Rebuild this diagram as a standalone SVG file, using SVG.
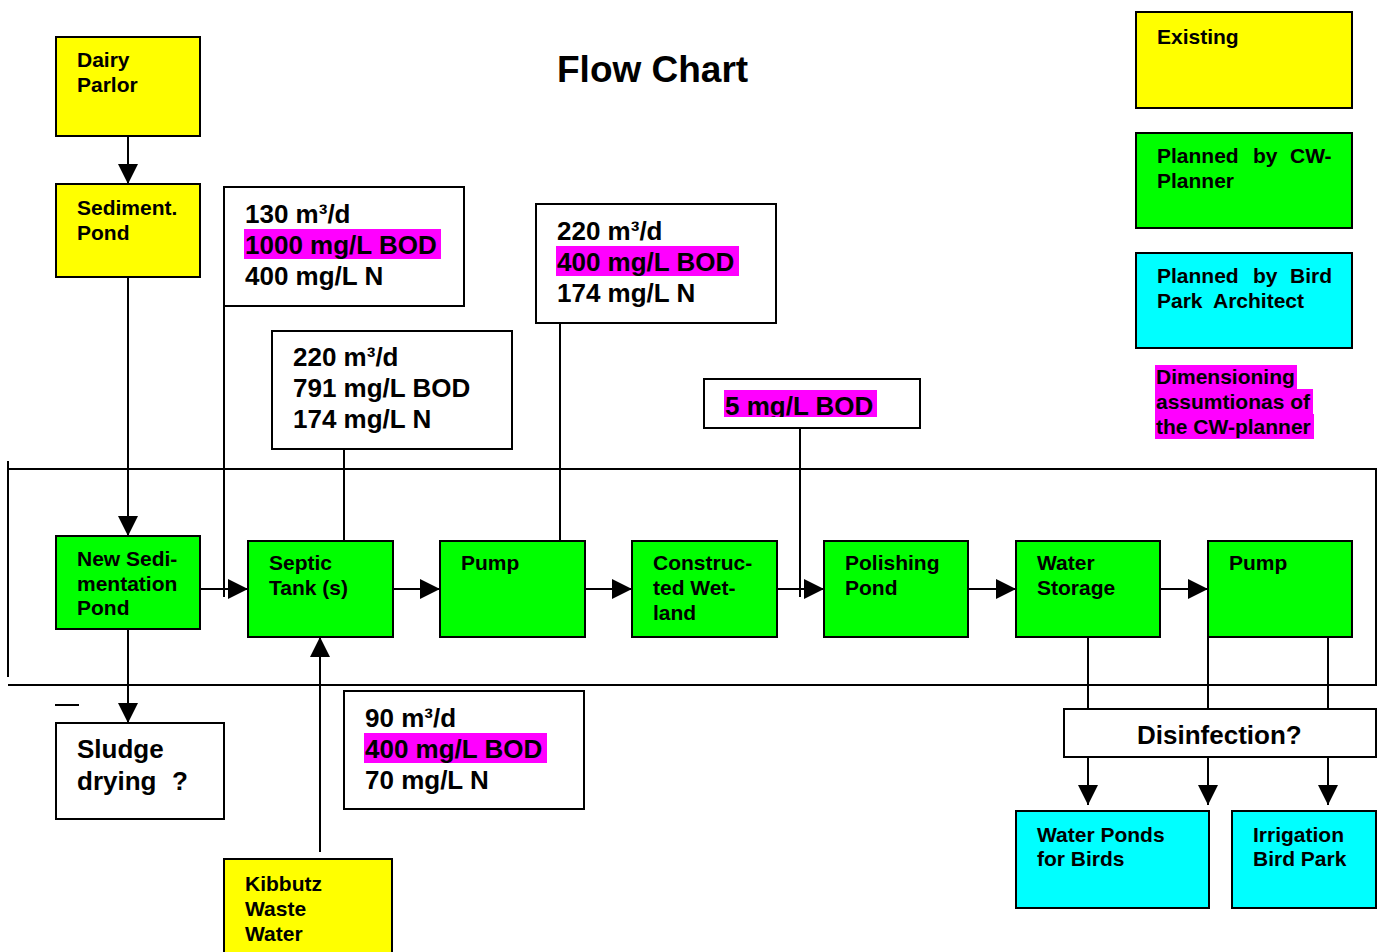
<svg xmlns="http://www.w3.org/2000/svg" width="1383" height="952" viewBox="0 0 1383 952">
<style>
text{font-family:"Liberation Sans",Arial,sans-serif;font-weight:bold;fill:#000}
.t21{font-size:21px}
.t26{font-size:26px}
.box{stroke:#000;stroke-width:2}
.y{fill:#ffff00}.g{fill:#00ff00}.c{fill:#00ffff}.w{fill:#fff}
.hl{fill:#ff00ff}
.ln{stroke:#000;stroke-width:2;fill:none}
</style>
<defs>
<marker id="ah" markerUnits="userSpaceOnUse" markerWidth="20" markerHeight="20" refX="20" refY="10" orient="auto">
<path d="M0,0 L20,10 L0,20 z" fill="#000"/>
</marker>
<clipPath id="clip5"><rect x="705" y="380" width="214" height="37"/></clipPath>
</defs>
<rect width="1383" height="952" fill="#fff"/>
<text x="557" y="82" style="font-size:37px">Flow Chart</text>

<g id="frame">
<polyline class="ln" points="8,469 1376,469 1376,685 8,685"/>
<line class="ln" x1="8" y1="461" x2="8" y2="677"/>
<line class="ln" x1="55" y1="705" x2="79" y2="705"/>
</g>

<g id="connectors">
<line class="ln" x1="128" y1="136" x2="128" y2="184" marker-end="url(#ah)"/>
<line class="ln" x1="128" y1="277" x2="128" y2="536" marker-end="url(#ah)"/>
<line class="ln" x1="128" y1="629" x2="128" y2="723" marker-end="url(#ah)"/>
<line class="ln" x1="200" y1="589" x2="248" y2="589" marker-end="url(#ah)"/>
<line class="ln" x1="393" y1="589" x2="440" y2="589" marker-end="url(#ah)"/>
<line class="ln" x1="585" y1="589" x2="632" y2="589" marker-end="url(#ah)"/>
<line class="ln" x1="777" y1="589" x2="824" y2="589" marker-end="url(#ah)"/>
<line class="ln" x1="968" y1="589" x2="1016" y2="589" marker-end="url(#ah)"/>
<line class="ln" x1="1160" y1="589" x2="1208" y2="589" marker-end="url(#ah)"/>
<line class="ln" x1="224" y1="306" x2="224" y2="597"/>
<line class="ln" x1="344" y1="449" x2="344" y2="547"/>
<line class="ln" x1="560" y1="323" x2="560" y2="541"/>
<line class="ln" x1="800" y1="428" x2="800" y2="597"/>
<line class="ln" x1="320" y1="852" x2="320" y2="637" marker-end="url(#ah)"/>
<line class="ln" x1="1088" y1="637" x2="1088" y2="709"/>
<line class="ln" x1="1208" y1="637" x2="1208" y2="709"/>
<line class="ln" x1="1328" y1="637" x2="1328" y2="709"/>
<line class="ln" x1="1088" y1="757" x2="1088" y2="805" marker-end="url(#ah)"/>
<line class="ln" x1="1208" y1="757" x2="1208" y2="805" marker-end="url(#ah)"/>
<line class="ln" x1="1328" y1="757" x2="1328" y2="805" marker-end="url(#ah)"/>
</g>

<g id="dairy">
<rect class="box y" x="56" y="37" width="144" height="99"/>
<text class="t21" x="77" y="67">Dairy</text>
<text class="t21" x="77" y="92">Parlor</text>
</g>
<g id="sediment">
<rect class="box y" x="56" y="184" width="144" height="93"/>
<text class="t21" x="77" y="215">Sediment.</text>
<text class="t21" x="77" y="240">Pond</text>
</g>
<g id="data1">
<rect class="box w" x="224" y="187" width="240" height="119"/>
<rect class="hl" x="244" y="229" width="197" height="30"/>
<text class="t26" x="245" y="223">130 m³/d</text>
<text class="t26" x="245" y="254">1000 mg/L BOD</text>
<text class="t26" x="245" y="285">400 mg/L N</text>
</g>
<g id="data2">
<rect class="box w" x="272" y="331" width="240" height="118"/>
<text class="t26" x="293" y="366">220 m³/d</text>
<text class="t26" x="293" y="397">791 mg/L BOD</text>
<text class="t26" x="293" y="428">174 mg/L N</text>
</g>
<g id="data3">
<rect class="box w" x="536" y="204" width="240" height="119"/>
<rect class="hl" x="556" y="246" width="183" height="30"/>
<text class="t26" x="557" y="240">220 m³/d</text>
<text class="t26" x="557" y="271">400 mg/L BOD</text>
<text class="t26" x="557" y="302">174 mg/L N</text>
</g>
<g id="data4">
<rect class="box w" x="704" y="379" width="216" height="49"/>
<rect class="hl" x="724" y="390" width="153" height="27"/>
<text class="t26" x="725" y="415" clip-path="url(#clip5)">5 mg/L BOD</text>
</g>
<g id="data5">
<rect class="box w" x="344" y="691" width="240" height="118"/>
<rect class="hl" x="364" y="733" width="183" height="30"/>
<text class="t26" x="365" y="727">90 m³/d</text>
<text class="t26" x="365" y="758">400 mg/L BOD</text>
<text class="t26" x="365" y="789">70 mg/L N</text>
</g>

<g id="newsed">
<rect class="box g" x="56" y="536" width="144" height="93"/>
<text class="t21" x="77" y="566">New Sedi-</text>
<text class="t21" x="77" y="591">mentation</text>
<text class="t21" x="77" y="615">Pond</text>
</g>
<g id="septic">
<rect class="box g" x="248" y="541" width="145" height="96"/>
<text class="t21" x="269" y="570">Septic</text>
<text class="t21" x="269" y="595">Tank (s)</text>
</g>
<g id="pump1">
<rect class="box g" x="440" y="541" width="145" height="96"/>
<text class="t21" x="461" y="570">Pump</text>
</g>
<g id="wetland">
<rect class="box g" x="632" y="541" width="145" height="96"/>
<text class="t21" x="653" y="570">Construc-</text>
<text class="t21" x="653" y="595">ted Wet-</text>
<text class="t21" x="653" y="620">land</text>
</g>
<g id="polishing">
<rect class="box g" x="824" y="541" width="144" height="96"/>
<text class="t21" x="845" y="570">Polishing</text>
<text class="t21" x="845" y="595">Pond</text>
</g>
<g id="storage">
<rect class="box g" x="1016" y="541" width="144" height="96"/>
<text class="t21" x="1037" y="570">Water</text>
<text class="t21" x="1037" y="595">Storage</text>
</g>
<g id="pump2">
<rect class="box g" x="1208" y="541" width="144" height="96"/>
<text class="t21" x="1229" y="570">Pump</text>
</g>

<g id="sludge">
<rect class="box w" x="56" y="723" width="168" height="96"/>
<text class="t26" x="77" y="758">Sludge</text>
<text class="t26" x="77" y="790">drying</text>
<text class="t26" x="172" y="790">?</text>
</g>
<g id="kibbutz">
<rect class="box y" x="224" y="859" width="168" height="100"/>
<text class="t21" x="245" y="891">Kibbutz</text>
<text class="t21" x="245" y="916">Waste</text>
<text class="t21" x="245" y="941">Water</text>
</g>
<g id="disinfection">
<rect class="box w" x="1064" y="709" width="312" height="48"/>
<text class="t26" x="1137" y="744">Disinfection?</text>
</g>
<g id="ponds">
<rect class="box c" x="1016" y="811" width="193" height="97"/>
<text class="t21" x="1037" y="842">Water Ponds</text>
<text class="t21" x="1037" y="866">for Birds</text>
</g>
<g id="irrigation">
<rect class="box c" x="1232" y="811" width="144" height="97"/>
<text class="t21" x="1253" y="842">Irrigation</text>
<text class="t21" x="1253" y="866">Bird Park</text>
</g>

<g id="legend-existing">
<rect class="box y" x="1136" y="12" width="216" height="96"/>
<text class="t21" x="1157" y="44">Existing</text>
</g>
<g id="legend-cw">
<rect class="box g" x="1136" y="133" width="216" height="95"/>
<text class="t21" y="163"><tspan x="1157">Planned</tspan><tspan x="1253">by</tspan><tspan x="1290">CW-</tspan></text>
<text class="t21" x="1157" y="188">Planner</text>
</g>
<g id="legend-bird">
<rect class="box c" x="1136" y="253" width="216" height="95"/>
<text class="t21" y="283"><tspan x="1157">Planned</tspan><tspan x="1253">by</tspan><tspan x="1290">Bird</tspan></text>
<text class="t21" y="308"><tspan x="1157">Park</tspan><tspan x="1213">Architect</tspan></text>
</g>
<g id="legend-dim">
<rect class="hl" x="1155" y="365" width="142" height="24"/>
<rect class="hl" x="1155" y="389" width="158" height="25"/>
<rect class="hl" x="1155" y="414" width="159" height="25"/>
<text class="t21" x="1156" y="384">Dimensioning</text>
<text class="t21" x="1156" y="409">assumtionas of</text>
<text class="t21" x="1156" y="434">the CW-planner</text>
</g>
</svg>
